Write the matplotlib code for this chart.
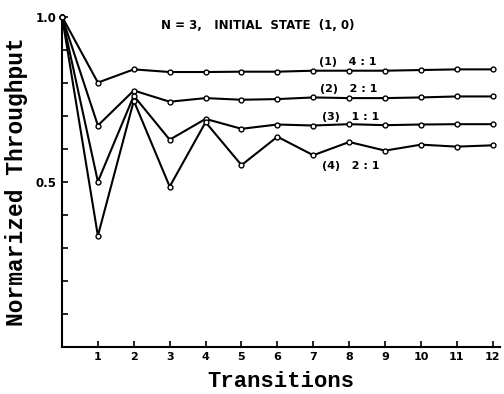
import matplotlib
matplotlib.use("Agg")
import matplotlib.pyplot as plt

# ── Data ────────────────────────────────────────────────────────────────
transitions = list(range(13))
thr_1 = [1.0, 0.80, 0.84, 0.832, 0.832, 0.833, 0.833, 0.836, 0.836, 0.836, 0.838, 0.840, 0.840]
thr_2 = [1.0, 0.67, 0.776, 0.742, 0.753, 0.748, 0.750, 0.755, 0.753, 0.753, 0.755, 0.758, 0.758]
thr_3 = [1.0, 0.50, 0.760, 0.627, 0.690, 0.660, 0.673, 0.670, 0.674, 0.671, 0.673, 0.674, 0.674]
thr_4 = [1.0, 0.336, 0.745, 0.485, 0.680, 0.550, 0.636, 0.580, 0.620, 0.594, 0.612, 0.606, 0.610]
series_labels = ["(1)   4 : 1", "(2)   2 : 1", "(3)   1 : 1", "(4)   2 : 1"]
label_pos = [(7.15, 0.862), (7.2, 0.780), (7.25, 0.696), (7.25, 0.548)]

x_ticks = list(range(1, 13))
y_ticks = [0.1 * i for i in range(1, 11)]

fig = plt.figure(figsize=(5.04, 3.94), dpi=100)
ax = fig.add_axes([0.123, 0.12, 0.869, 0.838])

for ys in [thr_1, thr_2, thr_3, thr_4]:
    ax.plot(transitions, ys, "-o", color="black", linewidth=1.5,
            markersize=3.5, markerfacecolor="white", markeredgewidth=1.0,
            clip_on=False, zorder=5)

for lab, (lx, ly) in zip(series_labels, label_pos):
    ax.text(lx, ly, lab, fontsize=8, fontweight="bold", ha="left", va="center")

ax.text(5.46, 0.973, "N = 3,   INITIAL  STATE  (1, 0)", fontsize=8.5,
        fontweight="bold", ha="center", va="center")

ax.set_xlim(0, 12.2)
ax.set_ylim(0, 1.0)
ax.spines["top"].set_visible(False)
ax.spines["right"].set_visible(False)
ax.spines["left"].set_linewidth(1.5)
ax.spines["bottom"].set_linewidth(1.5)

ax.set_xticks(x_ticks)
ax.set_xticklabels([str(t) for t in x_ticks], fontsize=8, fontweight="bold")
ax.set_yticks(y_ticks)
ax.set_yticklabels(["0.5" if abs(v - 0.5) < 1e-6 else ("1.0" if abs(v - 1.0) < 1e-6 else "")
                    for v in y_ticks], fontsize=8.5, fontweight="bold")
ax.tick_params(direction="in", length=4, width=1.2, pad=4)

ax.set_xlabel("Transitions", fontsize=16, fontweight="bold",
              family="Liberation Mono", labelpad=6)
ax.set_ylabel("Normarized Throughput", fontsize=16.5, fontweight="bold",
              family="Liberation Mono", labelpad=5)

fig.savefig("out.png", dpi=100)
